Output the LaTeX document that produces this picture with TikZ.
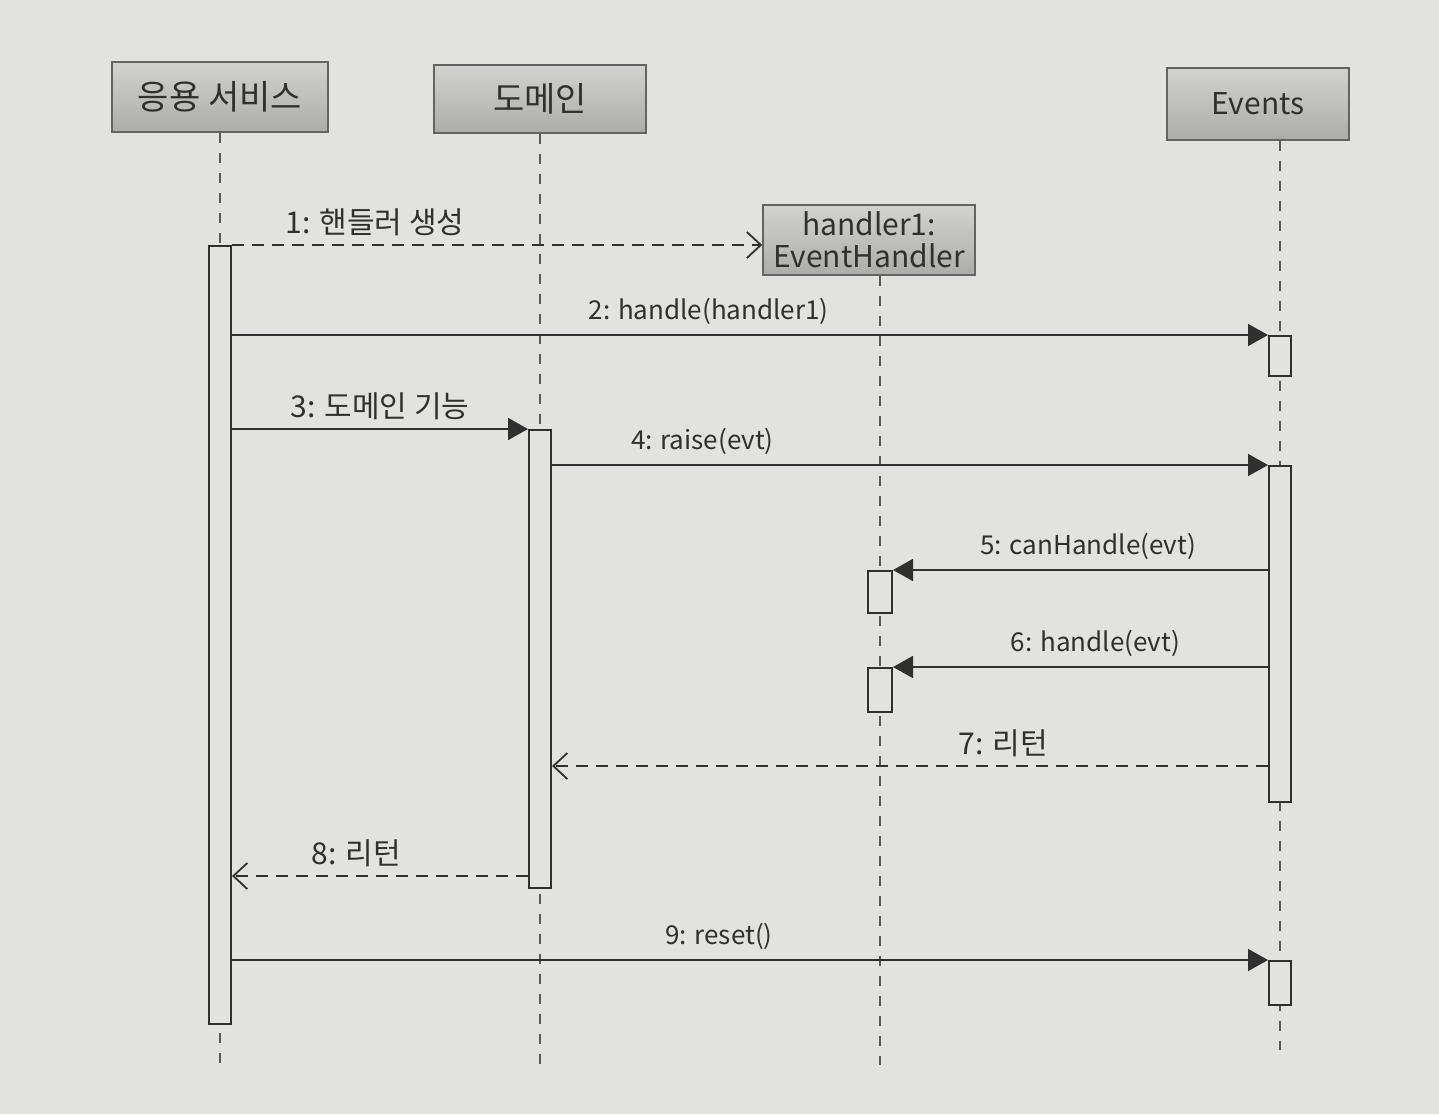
\documentclass[tikz,border=0pt]{standalone}
\usepackage{fontspec}
\setmainfont{Noto Sans CJK KR}
\definecolor{pageGray}{RGB}{226,226,223}
\definecolor{inkGray}{RGB}{48,48,48}
\definecolor{boxTop}{RGB}{210,210,207}
\definecolor{boxBottom}{RGB}{172,172,170}
\usetikzlibrary{positioning,arrows.meta}

\tikzset{
  headBox/.style={draw=inkGray!75, line width=0.8pt, top color=boxTop, bottom color=boxBottom,
    text=inkGray, font=\fontsize{17}{18}\selectfont, inner sep=0pt, align=center},
  actBar/.style={draw=inkGray, line width=1pt, fill=pageGray, minimum width=11pt, inner sep=0pt, anchor=north},
  lifeLine/.style={draw=inkGray!80, line width=0.6pt, dash pattern=on 5pt off 5pt},
  callMsg/.style={draw=inkGray, line width=0.9pt, -{Triangle[length=10pt,width=11pt]}},
  backMsg/.style={draw=inkGray, line width=0.9pt, dash pattern=on 6pt off 4pt,
    -{Straight Barb[length=7pt,width=13pt,line width=0.9pt]}},
  msgText/.style={text=inkGray, font=\fontsize{13}{16}\selectfont, anchor=south, inner sep=5pt},
  korText/.style={msgText, font=\fontsize{15}{16}\selectfont, inner sep=4pt},
}

\begin{document}
\begin{tikzpicture}[x=0.5pt, y=-0.5pt]
  % page
  \fill[pageGray] (0,0) rectangle (1439,1114);

  % heads
  \node[headBox, minimum width=108pt, minimum height=35pt] (appHead) at (220,97) {응용 서비스};
  \node[headBox, minimum width=106pt, minimum height=34pt] (domHead) at (540,99) {도메인};
  \node[headBox, minimum width=91pt, minimum height=36pt, font=\fontsize{15}{18}\selectfont] (evHead) at (1258,104) {Events};
  \node[headBox, minimum width=106pt, minimum height=35pt, font=\fontsize{15}{16}\selectfont] (hHead) at (869,240) {handler1:\\EventHandler};

  % lifelines
  \coordinate (appEnd) at (220,1070);
  \coordinate (domEnd) at (540,1068);
  \coordinate (hEnd) at (880,1065);
  \coordinate (evEnd) at (1280,1050);
  \draw[lifeLine] (appHead.south) -- (appEnd);
  \draw[lifeLine] (domHead.south) -- (domEnd);
  \draw[lifeLine] (hHead.south -| hEnd) -- (hEnd);
  \draw[lifeLine] (evHead.south -| evEnd) -- (evEnd);

  % activations
  \node[actBar, minimum height=389pt] (appAct) at (220,245) {};
  \node[actBar, minimum height=229pt] (domAct) at (540,429) {};
  \node[actBar, minimum height=21pt, minimum width=12pt] (hAct1) at (880,570) {};
  \node[actBar, minimum height=22pt, minimum width=12pt] (hAct2) at (880,667) {};
  \node[actBar, minimum height=20pt] (evAct1) at (1280,335) {};
  \node[actBar, minimum height=168pt] (evAct2) at (1280,465) {};
  \node[actBar, minimum height=22pt] (evAct3) at (1280,960) {};

  % messages
  \coordinate (m7) at (0,766);
  \coordinate (m8) at (0,876);
  \draw[backMsg] (appAct.north east) -- (hHead.west |- appAct.north)
    node[korText, pos=0.27] {1: 핸들러 생성};
  \draw[callMsg] (appAct.east |- evAct1.north) -- (evAct1.north west)
    node[msgText, pos=0.46] {2: handle(handler1)};
  \draw[callMsg] (appAct.east |- domAct.north) -- (domAct.north west)
    node[korText, midway] {3: 도메인 기능};
  \draw[callMsg] (domAct.east |- evAct2.north) -- (evAct2.north west)
    node[msgText, pos=0.21] {4: raise(evt)};
  \draw[callMsg] (evAct2.west |- hAct1.north) -- (hAct1.north east)
    node[msgText, pos=0.48] {5: canHandle(evt)};
  \draw[callMsg] (evAct2.west |- hAct2.north) -- (hAct2.north east)
    node[msgText, pos=0.46] {6: handle(evt)};
  \draw[backMsg] (evAct2.west |- m7) -- (domAct.east |- m7)
    node[korText, pos=0.37] {7: 리턴};
  \draw[backMsg] (domAct.west |- m8) -- (appAct.east |- m8)
    node[korText, pos=0.58] {8: 리턴};
  \draw[callMsg] (appAct.east |- evAct3.north) -- (evAct3.north west)
    node[msgText, pos=0.47] {9: reset()};
\end{tikzpicture}
\end{document}
